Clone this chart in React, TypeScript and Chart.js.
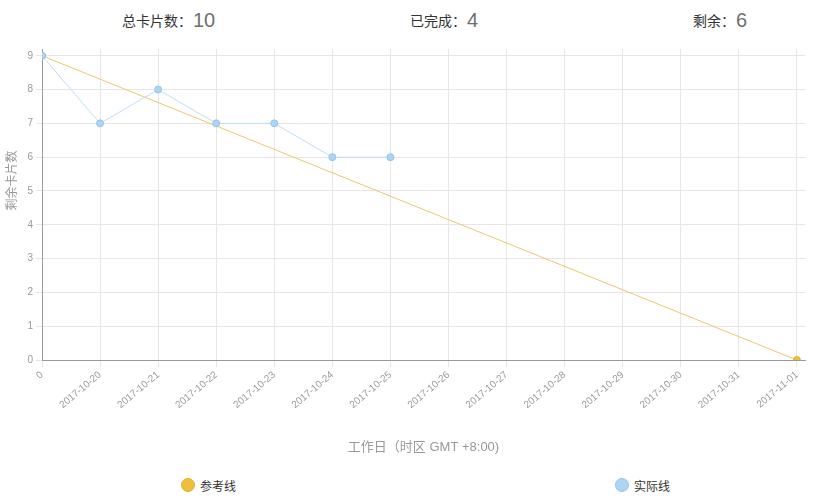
import React, { useEffect, useRef } from "react";
import { Chart, registerables } from "chart.js";

Chart.register(...registerables);

const categories = [
  "0",
  "2017-10-20",
  "2017-10-21",
  "2017-10-22",
  "2017-10-23",
  "2017-10-24",
  "2017-10-25",
  "2017-10-26",
  "2017-10-27",
  "2017-10-28",
  "2017-10-29",
  "2017-10-30",
  "2017-10-31",
  "2017-11-01",
];
const actualValues: (number | null)[] = [9, 7, 8, 7, 7, 6, 6];
const referenceValues: (number | null)[] = [9, null, null, null, null, null, null, null, null, null, null, null, null, 0];
const statLabels = ["总卡片数：", "已完成：", "剩余："];
const statValues = ["10", "4", "6"];
const seriesNames = ["参考线", "实际线"];
const yTitle = "　　　　剩余卡片数";
const xTitle = "工作日（时区 GMT +8:00)";

const FONT = "Arial, 'Liberation Sans', 'Noto Sans CJK SC', sans-serif";

const toPoints = (vals: (number | null)[]) =>
  vals
    .map((v, i) => (v === null ? null : { x: i, y: v }))
    .filter((p) => p !== null) as { x: number; y: number }[];

export default function App() {
  const canvasRef = useRef<HTMLCanvasElement | null>(null);

  useEffect(() => {
    document.body.style.margin = "0";
    const ctx = canvasRef.current;
    if (!ctx) return;
    const chart = new Chart(ctx, {
      type: "line",
      data: {
        datasets: [
          {
            label: seriesNames[0],
            data: toPoints(referenceValues),
            borderColor: "#ebc86a",
            borderWidth: 1,
            backgroundColor: "#f0c03c",
            pointBackgroundColor: "#f0bf3a",
            pointBorderColor: "#e2b030",
            pointBorderWidth: 1,
            pointRadius: 3.5,
            tension: 0,
            order: 2,
          },
          {
            label: seriesNames[1],
            data: toPoints(actualValues),
            borderColor: "#bcdff3",
            borderWidth: 1,
            backgroundColor: "#a9d2f2",
            pointBackgroundColor: "#add4f2",
            pointBorderColor: "#95c5ea",
            pointBorderWidth: 1,
            pointRadius: 3.5,
            tension: 0,
            order: 1,
          },
        ],
      },
      options: {
        animation: false,
        responsive: false,
        maintainAspectRatio: false,
        layout: { padding: { top: 8, right: 13, left: 0, bottom: 0 } },
        plugins: {
          legend: { display: false },
          tooltip: { enabled: false },
        },
        scales: {
          x: {
            type: "linear",
            min: 0,
            max: 13.14,
            afterFit: (scale: any) => {
              scale.height = 110;
            },
            grid: { color: "#e6e6e6", tickLength: 7, lineWidth: 1 },
            border: { color: "#9a9a9a", width: 1 },
            ticks: {
              stepSize: 1,
              includeBounds: false,
              autoSkip: false,
              minRotation: 40,
              maxRotation: 40,
              padding: 2,
              color: "#9a9a9a",
              font: { size: 10, family: FONT },
              callback: (v: any) => categories[v as number] ?? "",
            },
            title: {
              display: true,
              text: xTitle,
              color: "#999",
              font: { size: 13, family: FONT },
              padding: { top: 0, bottom: 15 },
            },
          },
          y: {
            type: "linear",
            min: 0,
            max: 9.2,
            afterFit: (scale: any) => {
              scale.width = 42;
            },
            grid: { color: "#e6e6e6", tickLength: 6, lineWidth: 1 },
            border: { color: "#9a9a9a", width: 1 },
            ticks: {
              stepSize: 1,
              includeBounds: false,
              padding: 3,
              color: "#9a9a9a",
              font: { size: 10, family: FONT },
            },
            title: {
              display: true,
              text: yTitle,
              color: "#999",
              font: { size: 12, family: FONT },
              padding: { top: 5, bottom: 0 },
            },
          },
        },
      },
    });
    return () => chart.destroy();
  }, []);

  const statLeft = [122, 410, 693];
  const legendColors = [
    { fill: "#f0bf3a", border: "#e0ae2c" },
    { fill: "#add4f2", border: "#95c5ea" },
  ];
  const legendLeft = [181, 615];

  return (
    <div
      style={{
        position: "relative",
        width: 818,
        height: 504,
        fontFamily: FONT,
        background: "#fff",
        overflow: "hidden",
      }}
    >
      {statLabels.map((l, i) => (
        <div
          key={l}
          style={{
            position: "absolute",
            left: statLeft[i],
            top: 6,
            height: 28,
            display: "flex",
            alignItems: "center",
            whiteSpace: "nowrap",
          }}
        >
          <span style={{ fontSize: 14, color: "#333" }}>{l}</span>
          <span style={{ fontSize: 20, color: "#6e6e6e", marginLeft: 1 }}>{statValues[i]}</span>
        </div>
      ))}
      <canvas
        ref={canvasRef}
        width={818}
        height={430}
        style={{ position: "absolute", left: 0, top: 40, width: 818, height: 430 }}
      />
      {seriesNames.map((n, i) => (
        <div
          key={n}
          style={{
            position: "absolute",
            left: legendLeft[i],
            top: 476,
            height: 18,
            display: "flex",
            alignItems: "center",
            whiteSpace: "nowrap",
          }}
        >
          <span
            style={{
              display: "inline-block",
              width: 12,
              height: 12,
              borderRadius: "50%",
              background: legendColors[i].fill,
              border: `1px solid ${legendColors[i].border}`,
            }}
          />
          <span style={{ fontSize: 12, color: "#333", marginLeft: 5 }}>{n}</span>
        </div>
      ))}
    </div>
  );
}
